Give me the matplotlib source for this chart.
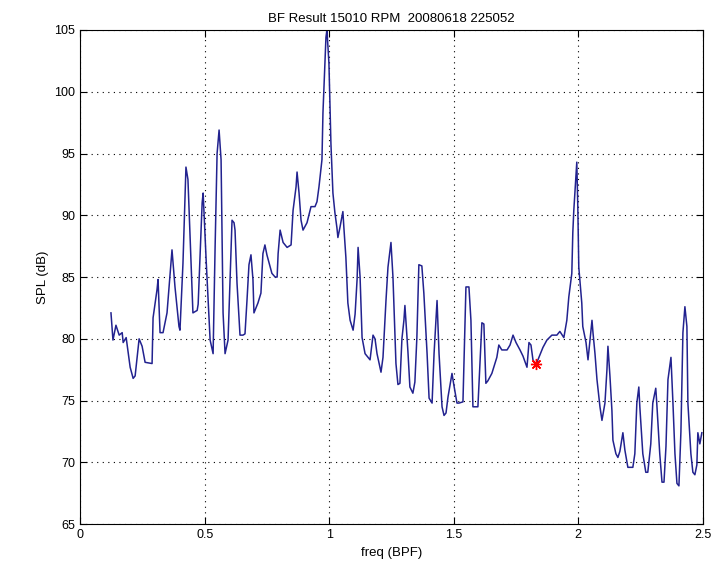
import matplotlib
matplotlib.use("Agg")
import matplotlib.pyplot as plt

# beamforming spectrum
freq = [0.124, 0.132, 0.144, 0.157, 0.169, 0.173, 0.185, 0.201, 0.213, 0.221,
        0.237, 0.249, 0.261, 0.289, 0.293, 0.309, 0.313, 0.321, 0.333, 0.349,
        0.369, 0.381, 0.397, 0.401, 0.413, 0.425, 0.433, 0.453, 0.470, 0.474,
        0.490, 0.494, 0.506, 0.522, 0.534, 0.542, 0.550, 0.558, 0.566, 0.574,
        0.582, 0.594, 0.610, 0.618, 0.622, 0.630, 0.642, 0.654, 0.662, 0.670,
        0.678, 0.686, 0.694, 0.698, 0.714, 0.726, 0.734, 0.742, 0.750, 0.770,
        0.783, 0.791, 0.795, 0.803, 0.815, 0.831, 0.847, 0.855, 0.867, 0.871,
        0.879, 0.887, 0.895, 0.911, 0.927, 0.943, 0.951, 0.959, 0.971, 0.975,
        0.983, 0.987, 0.991, 0.999, 1.007, 1.015, 1.023, 1.031, 1.035, 1.043,
        1.055, 1.059, 1.067, 1.075, 1.084, 1.096, 1.104, 1.112, 1.116, 1.124,
        1.132, 1.144, 1.164, 1.176, 1.184, 1.192, 1.208, 1.216, 1.228, 1.236,
        1.248, 1.256, 1.260, 1.268, 1.276, 1.284, 1.292, 1.300, 1.304, 1.316,
        1.324, 1.336, 1.344, 1.352, 1.360, 1.372, 1.380, 1.393, 1.401, 1.413,
        1.421, 1.433, 1.441, 1.453, 1.461, 1.469, 1.477, 1.493, 1.501, 1.513,
        1.521, 1.537, 1.549, 1.561, 1.569, 1.577, 1.597, 1.613, 1.621, 1.629,
        1.637, 1.653, 1.673, 1.681, 1.693, 1.714, 1.726, 1.738, 1.750, 1.766,
        1.778, 1.794, 1.802, 1.810, 1.818, 1.830, 1.838, 1.858, 1.874, 1.894,
        1.914, 1.926, 1.942, 1.954, 1.962, 1.974, 1.978, 1.982, 1.990, 1.994,
        1.998, 2.002, 2.014, 2.018, 2.031, 2.039, 2.047, 2.055, 2.059, 2.067,
        2.075, 2.087, 2.095, 2.107, 2.115, 2.119, 2.127, 2.135, 2.139, 2.151,
        2.159, 2.167, 2.179, 2.187, 2.199, 2.219, 2.227, 2.235, 2.243, 2.247,
        2.259, 2.271, 2.279, 2.291, 2.299, 2.311, 2.315, 2.327, 2.336, 2.344,
        2.352, 2.360, 2.372, 2.380, 2.388, 2.396, 2.404, 2.412, 2.420, 2.428,
        2.436, 2.440, 2.452, 2.460, 2.468, 2.476, 2.480, 2.488, 2.496]
spl = [82.1, 79.9, 81.1, 80.3, 80.5, 79.7, 80.1, 77.7, 76.8, 77.0,
       80.0, 79.4, 78.1, 78.0, 81.7, 84.0, 84.8, 80.5, 80.5, 82.1,
       87.2, 84.2, 81.0, 80.7, 86.1, 93.9, 92.9, 82.1, 82.3, 82.8,
       91.0, 91.8, 86.4, 79.9, 78.8, 87.4, 95.0, 96.9, 94.5, 82.1,
       78.8, 79.9, 89.6, 89.4, 88.8, 84.5, 80.3, 80.3, 80.4, 83.1,
       86.0, 86.8, 84.8, 82.1, 82.9, 83.7, 86.9, 87.6, 86.8, 85.3,
       85.0, 85.0, 86.9, 88.8, 87.8, 87.4, 87.6, 90.4, 92.3, 93.5,
       91.8, 89.6, 88.8, 89.4, 90.7, 90.7, 91.1, 92.3, 94.5, 98.3,
       102.3, 104.4, 105.0, 102.3, 95.8, 91.8, 90.2, 89.0, 88.2, 89.0,
       90.3, 89.0, 86.6, 82.9, 81.5, 80.7, 82.0, 84.8, 87.4, 85.0,
       80.1, 78.8, 78.3, 80.3, 80.0, 78.8, 77.3, 78.5, 83.1, 85.8,
       87.8, 85.0, 82.6, 78.0, 76.3, 76.4, 80.0, 81.5, 82.7, 79.0,
       76.1, 75.6, 76.5, 80.1, 86.0, 85.9, 83.7, 78.8, 75.2, 74.8,
       78.8, 83.1, 78.8, 74.5, 73.8, 74.0, 75.3, 77.2, 76.2, 74.8,
       74.8, 74.9, 84.2, 84.2, 81.5, 74.5, 74.5, 81.3, 81.2, 76.4,
       76.6, 77.2, 78.5, 79.5, 79.1, 79.1, 79.5, 80.3, 79.7, 79.1,
       78.6, 77.7, 79.7, 79.5, 78.3, 77.9, 78.3, 79.3, 79.9, 80.3,
       80.3, 80.6, 80.1, 81.5, 83.4, 85.3, 88.6, 90.4, 93.1, 94.3,
       90.7, 85.8, 82.9, 81.0, 79.7, 78.3, 79.9, 81.5, 80.5, 78.8,
       76.7, 74.5, 73.4, 74.8, 77.5, 79.4, 77.0, 74.2, 71.8, 70.7,
       70.4, 70.9, 72.4, 71.0, 69.6, 69.6, 70.7, 74.8, 76.1, 74.5,
       70.7, 69.2, 69.2, 71.5, 74.8, 76.0, 74.8, 70.7, 68.4, 68.4,
       71.3, 76.7, 78.5, 74.8, 70.7, 68.3, 68.1, 72.5, 80.5, 82.6,
       81.0, 74.8, 70.7, 69.2, 69.0, 69.8, 72.4, 71.5, 72.4]

mark_freq = [1.830]
mark_spl = [78.0]

plt.rcParams['font.family'] = ['Liberation Sans', 'DejaVu Sans']

fig = plt.figure(figsize=(7.15, 5.76), dpi=100)
ax = fig.add_axes([0.112, 0.090, 0.871, 0.858])
ax.plot(freq, spl, color='#22228f', linewidth=1.1)
# MATLAB-style asterisk: plus + cross
ax.plot(mark_freq, mark_spl, linestyle='none', marker=(8, 2, 0), color='red',
        markersize=8, markeredgewidth=1.0)

ax.set_xlim(0, 2.5)
ax.set_ylim(65, 105)
ax.set_xticks([0, 0.5, 1, 1.5, 2, 2.5])
ax.set_xticklabels(['0', '0.5', '1', '1.5', '2', '2.5'])
ax.set_yticks(range(65, 106, 5))
ax.tick_params(direction='in', top=True, right=True, labelsize=9, length=5)
ax.grid(True, color='black', linestyle=(0, (1, 4)), linewidth=0.8)
for s in ax.spines.values():
    s.set_linewidth(0.8)

ax.set_title('BF Result 15010 RPM  20080618 225052', fontsize=9.5, pad=6)
ax.set_xlabel('freq (BPF)', fontsize=9.5)
ax.set_ylabel('SPL (dB)', fontsize=9.5)

fig.savefig('out.png', dpi=100)
